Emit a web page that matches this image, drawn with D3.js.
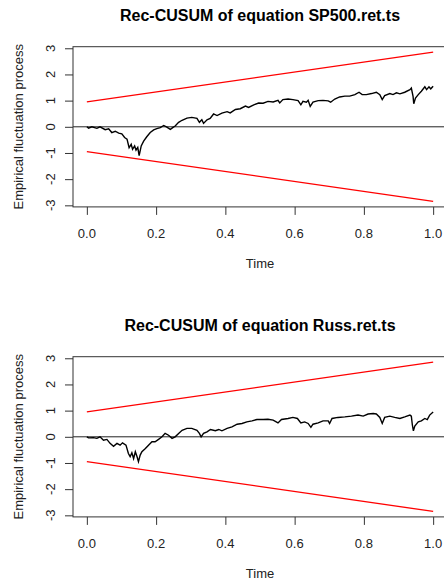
<!DOCTYPE html>
<html>
  <head>
    <meta charset="utf-8">
    <script src="https://d3js.org/d3.v7.min.js"></script>
    <style>
      html, body {
        margin: 0;
        padding: 0;
        overflow: hidden;
        background-color: #fff;
      }
      svg {
        display: block;
        font-family: "Liberation Sans", Arial, sans-serif;
      }
      .lbl {
        font-size: 13px;
        fill: #222;
      }
    </style>
  </head>
  <body>
    <div id="visualization"></div>
    <script>
      // Rec-CUSUM process for SP500.ret.ts
      const sp500Time = [0, 0.005, 0.0145, 0.029, 0.038, 0.053, 0.063, 0.072, 0.082, 0.092, 0.101, 0.109, 0.116, 0.122, 0.128, 0.132, 0.138, 0.142, 0.147, 0.151, 0.157, 0.164, 0.173, 0.183, 0.193, 0.202, 0.212, 0.222, 0.231, 0.241, 0.248, 0.255, 0.265, 0.275, 0.289, 0.303, 0.318, 0.325, 0.332, 0.337, 0.347, 0.356, 0.366, 0.376, 0.39, 0.405, 0.414, 0.429, 0.443, 0.458, 0.467, 0.482, 0.496, 0.509, 0.523, 0.538, 0.552, 0.557, 0.566, 0.581, 0.595, 0.61, 0.618, 0.624, 0.634, 0.639, 0.645, 0.653, 0.668, 0.682, 0.697, 0.704, 0.716, 0.73, 0.745, 0.759, 0.774, 0.786, 0.795, 0.807, 0.822, 0.836, 0.846, 0.853, 0.86, 0.875, 0.884, 0.894, 0.904, 0.918, 0.933, 0.937, 0.942, 0.944, 0.949, 0.957, 0.966, 0.976, 0.981, 0.988, 0.993, 1.0];
      const sp500Values = [0, -0.05, 0.0, -0.06, 0.0, -0.11, -0.08, -0.22, -0.17, -0.24, -0.27, -0.41, -0.47, -0.8, -0.67, -0.86, -0.73, -0.89, -0.79, -1.1, -0.73, -0.55, -0.38, -0.22, -0.12, -0.07, -0.03, 0.05, -0.01, -0.1, -0.03, 0.03, 0.17, 0.25, 0.33, 0.36, 0.32, 0.17, 0.27, 0.13, 0.27, 0.32, 0.49, 0.43, 0.52, 0.58, 0.53, 0.66, 0.69, 0.79, 0.74, 0.84, 0.91, 0.9, 0.97, 0.95, 1.01, 0.91, 1.04, 1.06, 1.04, 1.0, 0.84, 0.97, 0.94, 1.01, 0.78, 0.94, 1.0, 1.01, 0.99, 0.94, 1.06, 1.14, 1.17, 1.17, 1.23, 1.32, 1.23, 1.23, 1.27, 1.32, 1.23, 1.04, 1.19, 1.27, 1.23, 1.3, 1.26, 1.32, 1.42, 1.48, 1.16, 0.88, 1.1, 1.23, 1.36, 1.53, 1.42, 1.53, 1.45, 1.55];

      // Rec-CUSUM process for Russ.ret.ts
      const russTime = [0, 0.005, 0.019, 0.029, 0.038, 0.048, 0.058, 0.067, 0.077, 0.087, 0.096, 0.103, 0.113, 0.12, 0.125, 0.13, 0.135, 0.14, 0.145, 0.149, 0.154, 0.159, 0.169, 0.178, 0.188, 0.197, 0.207, 0.217, 0.226, 0.236, 0.246, 0.255, 0.265, 0.275, 0.289, 0.303, 0.318, 0.325, 0.33, 0.337, 0.347, 0.357, 0.371, 0.381, 0.39, 0.405, 0.419, 0.434, 0.448, 0.462, 0.477, 0.491, 0.509, 0.523, 0.538, 0.552, 0.562, 0.581, 0.595, 0.608, 0.618, 0.629, 0.639, 0.647, 0.653, 0.668, 0.682, 0.697, 0.701, 0.708, 0.725, 0.745, 0.764, 0.783, 0.798, 0.812, 0.827, 0.836, 0.846, 0.853, 0.86, 0.875, 0.889, 0.904, 0.918, 0.933, 0.937, 0.94, 0.943, 0.947, 0.957, 0.966, 0.976, 0.983, 0.99, 1.0];
      const russValues = [0, -0.04, -0.03, -0.06, 0, -0.13, -0.1, -0.25, -0.36, -0.25, -0.32, -0.23, -0.32, -0.64, -0.76, -0.61, -0.83, -0.57, -0.76, -0.95, -0.7, -0.57, -0.45, -0.32, -0.19, -0.19, -0.1, 0, 0.13, 0.06, -0.06, 0, 0.13, 0.25, 0.32, 0.32, 0.25, 0.13, 0, 0.13, 0.19, 0.28, 0.23, 0.28, 0.23, 0.32, 0.38, 0.48, 0.51, 0.57, 0.61, 0.66, 0.66, 0.67, 0.64, 0.53, 0.66, 0.7, 0.74, 0.7, 0.53, 0.57, 0.51, 0.36, 0.48, 0.53, 0.61, 0.61, 0.51, 0.7, 0.74, 0.76, 0.79, 0.83, 0.79, 0.87, 0.89, 0.87, 0.74, 0.51, 0.74, 0.79, 0.74, 0.7, 0.76, 0.83, 0.79, 0.45, 0.23, 0.41, 0.57, 0.61, 0.7, 0.66, 0.83, 0.95];

      // 5% boundaries (upper; lower is the mirror)
      const boundaryTime = [0, 1];
      const boundaryUpper = [0.95, 2.85];

      const xTicks = [0, 0.2, 0.4, 0.6, 0.8, 1.0];
      const yTicks = [-3, -2, -1, 0, 1, 2, 3];
      const titles = ["Rec-CUSUM of equation SP500.ret.ts", "Rec-CUSUM of equation Russ.ret.ts"];

      const width = 444;
      const height = 583;
      const panelOffset = 310;
      const plot = { left: 73, right: 447, top: 46.7, bottom: 206.9 };

      const svg = d3.select("#visualization")
        .append("svg")
        .attr("width", width)
        .attr("height", height);

      const x = d3.scaleLinear()
        .domain([-0.04, 1.04])
        .range([plot.left, plot.right]);

      const y = d3.scaleLinear()
        .domain([-3.06, 3.06])
        .range([plot.bottom, plot.top]);

      function drawPanel(index, times, values) {
        const g = svg.append("g")
          .attr("transform", `translate(0,${index * panelOffset})`);

        // Title
        g.append("text")
          .attr("x", (plot.left + plot.right) / 2)
          .attr("y", 21)
          .attr("text-anchor", "middle")
          .style("font-size", "16px")
          .style("font-weight", "bold")
          .style("fill", "#000")
          .text(titles[index]);

        // Boundaries
        const upper = boundaryTime.map((t, i) => [t, boundaryUpper[i]]);
        const lower = boundaryTime.map((t, i) => [t, -boundaryUpper[i]]);
        const line = d3.line().x(d => x(d[0])).y(d => y(d[1]));

        [upper, lower].forEach(b => {
          g.append("path")
            .attr("d", line(b))
            .attr("fill", "none")
            .attr("stroke", "#ff0000")
            .attr("stroke-width", 1.3);
        });

        // Zero line
        g.append("line")
          .attr("x1", plot.left)
          .attr("x2", plot.right)
          .attr("y1", y(0))
          .attr("y2", y(0))
          .attr("stroke", "#222")
          .attr("stroke-width", 1);

        // Process
        g.append("path")
          .attr("d", line(times.map((t, i) => [t, values[i]])))
          .attr("fill", "none")
          .attr("stroke", "#000")
          .attr("stroke-width", 1.4)
          .attr("stroke-linejoin", "miter");

        // Box
        g.append("rect")
          .attr("x", plot.left)
          .attr("y", plot.top)
          .attr("width", plot.right - plot.left)
          .attr("height", plot.bottom - plot.top)
          .attr("fill", "none")
          .attr("stroke", "#333")
          .attr("stroke-width", 1);

        // X axis: ticks from the library, labels placed by hand
        const xAxis = g.append("g")
          .attr("transform", `translate(0,${plot.bottom})`)
          .call(d3.axisBottom(x)
            .tickValues(xTicks)
            .tickSize(8)
            .tickSizeOuter(0)
            .tickFormat(""));
        xAxis.select(".domain").remove();
        xAxis.selectAll(".tick line").attr("stroke", "#333");
        xAxis.selectAll(".tick text").remove();

        g.selectAll(".xlab")
          .data(xTicks)
          .enter()
          .append("text")
          .attr("class", "lbl")
          .attr("x", d => x(d))
          .attr("y", 237.5)
          .attr("text-anchor", "middle")
          .text(d => d3.format(".1f")(d));

        // Y axis with labels parallel to the axis
        const yAxis = g.append("g")
          .attr("transform", `translate(${plot.left},0)`)
          .call(d3.axisLeft(y)
            .tickValues(yTicks)
            .tickSize(8)
            .tickSizeOuter(0)
            .tickFormat(""));
        yAxis.select(".domain").remove();
        yAxis.selectAll(".tick line").attr("stroke", "#333");
        yAxis.selectAll(".tick text").remove();

        g.selectAll(".ylab")
          .data(yTicks)
          .enter()
          .append("text")
          .attr("class", "lbl")
          .attr("text-anchor", "middle")
          .attr("transform", d => `translate(54.5,${y(d)}) rotate(-90)`)
          .text(d => String(d));

        // Axis titles
        g.append("text")
          .attr("class", "lbl")
          .attr("x", (x(0) + x(1)) / 2)
          .attr("y", 268)
          .attr("text-anchor", "middle")
          .text("Time");

        g.append("text")
          .attr("class", "lbl")
          .attr("transform", `translate(22.5,${(plot.top + plot.bottom) / 2}) rotate(-90)`)
          .attr("text-anchor", "middle")
          .text("Empirical fluctuation process");
      }

      drawPanel(0, sp500Time, sp500Values);
      drawPanel(1, russTime, russValues);
    </script>
  </body>
</html>
